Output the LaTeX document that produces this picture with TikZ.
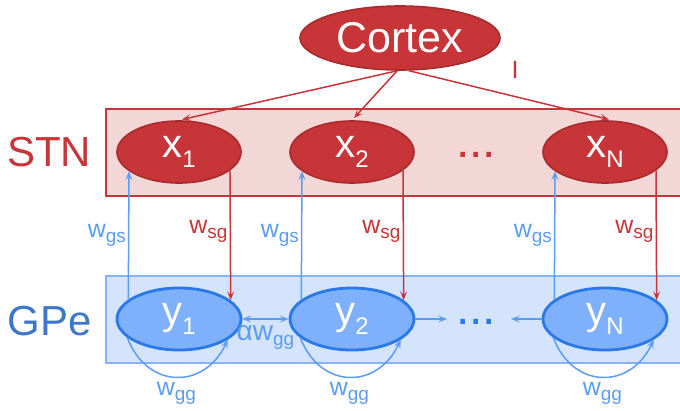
\documentclass[tikz,border=0pt]{standalone}
\usepackage{fontspec}
\setmainfont{Liberation Sans}
\usetikzlibrary{shapes.geometric,arrows.meta,calc}
\definecolor{rfill}{HTML}{C73538}
\definecolor{rdark}{HTML}{A82B2E}
\definecolor{pinkbg}{HTML}{F3D6D6}
\definecolor{bluebg}{HTML}{D4E4FC}
\definecolor{bfill}{HTML}{7EB0FB}
\definecolor{bdark}{HTML}{2A79E8}
\definecolor{bline}{HTML}{5B9CF5}
\definecolor{blabel}{HTML}{3D78C8}
\definecolor{brect}{HTML}{86B4F8}
\tikzset{
  rnode/.style={ellipse,fill=rfill,draw=rdark,line width=1.6pt,minimum width=124pt,minimum height=62pt,inner sep=0pt,text=white,font=\fontsize{40}{40}\selectfont},
  bnode/.style={ellipse,fill=bfill,draw=bdark,line width=2.8pt,minimum width=124pt,minimum height=62pt,inner sep=0pt,text=white,font=\fontsize{40}{40}\selectfont},
  rarr/.style={draw=rfill,line width=1.5pt,-{Stealth[length=9pt,width=7pt,inset=4pt]}},
  barr/.style={draw=bline,line width=1.5pt,-{Stealth[length=9pt,width=7pt,inset=4pt]}},
  wlab/.style={font=\fontsize{25}{25}\selectfont,inner sep=2pt},
  alab/.style={font=\fontsize{28}{28}\selectfont,inner sep=2pt},
}
\newcommand{\sbs}[1]{\raisebox{-5pt}{\fontsize{19}{19}\selectfont #1}}
\newcommand{\nsub}[1]{\raisebox{-10pt}{\fontsize{24}{24}\selectfont #1}}
\begin{document}
\begin{tikzpicture}[x=1pt,y=-1pt]
\useasboundingbox (0,0) rectangle (680,410);
% background rectangles
\node[draw=rfill,fill=pinkbg,line width=1.5pt,minimum width=580pt,minimum height=87pt,anchor=north west,inner sep=0pt] (stnbox) at (105,108) {};
\node[draw=brect,fill=bluebg,line width=1.5pt,minimum width=580pt,minimum height=87pt,anchor=north west,inner sep=0pt] (gpebox) at (105,275) {};
% labels
\node[text=rfill,font=\fontsize{42}{42}\selectfont,inner sep=0pt] (stn) at (49,152) {STN};
\node[text=blabel,font=\fontsize{42}{42}\selectfont,inner sep=0pt] (gpe) at (50,321) {GPe};
% nodes
\node[rnode,minimum width=200pt,minimum height=64pt,font=\fontsize{43}{43}\selectfont] (cortex) at (400,38) {Cortex};
\node[rnode] (x1) at (179,152) {x\nsub{1}};
\node[rnode] (x2) at (352,152) {x\nsub{2}};
\node[rnode] (xN) at (605,152) {x\nsub{N}};
\node[bnode] (y1) at (179,319) {y\nsub{1}};
\node[bnode] (y2) at (352,319) {y\nsub{2}};
\node[bnode] (yN) at (605,319) {y\nsub{N}};
\node[text=rfill,font=\fontsize{48}{48}\selectfont,inner sep=0pt] (rdots) at (476,155) {...};
\node[text=bdark,font=\fontsize{48}{48}\selectfont,inner sep=0pt] (bdots) at (476,322) {...};
\node[text=rfill,font=\fontsize{25}{25}\selectfont,inner sep=0pt] (ilab) at (515,70) {I};
% cortex to STN
\draw[rarr,shorten >=3pt] (cortex.265) -- (x1.north);
\draw[rarr,shorten >=3pt] (cortex.265) -- (x2.north);
\draw[rarr,shorten >=3pt] (cortex.285) -- ($(xN.north)+(7,0)$);
% vertical connections
\foreach \a in {1,2,N}{
  \draw[barr] (y\a.159) -- node[wlab,text=bline,left,pos=0.5] {w\sbs{gs}} (x\a.201);
  \draw[rarr] (x\a.-20) -- node[wlab,text=rfill,left,pos=0.47] {w\sbs{sg}} (y\a.20);
}
% horizontal GPe connections
\coordinate (h2) at (447,319);
\coordinate (hN) at (511,319);
\draw[barr,{Stealth[length=9pt,width=7pt,inset=4pt]}-{Stealth[length=9pt,width=7pt,inset=4pt]}] (y1.east) -- node[alab,text=bline,below=4pt] {αw\sbs{gg}} (y2.west);
\draw[barr] (y2.east) -- (h2);
\draw[barr] (yN.west) -- (hN);
% self loops
\foreach \a in {1,2,N}{
  \draw[barr] (y\a.-160) .. controls +(20,52) and +(-23,50) .. node[wlab,text=bline,below=3pt] {w\sbs{gg}} (y\a.-23);
}
\end{tikzpicture}
\end{document}
